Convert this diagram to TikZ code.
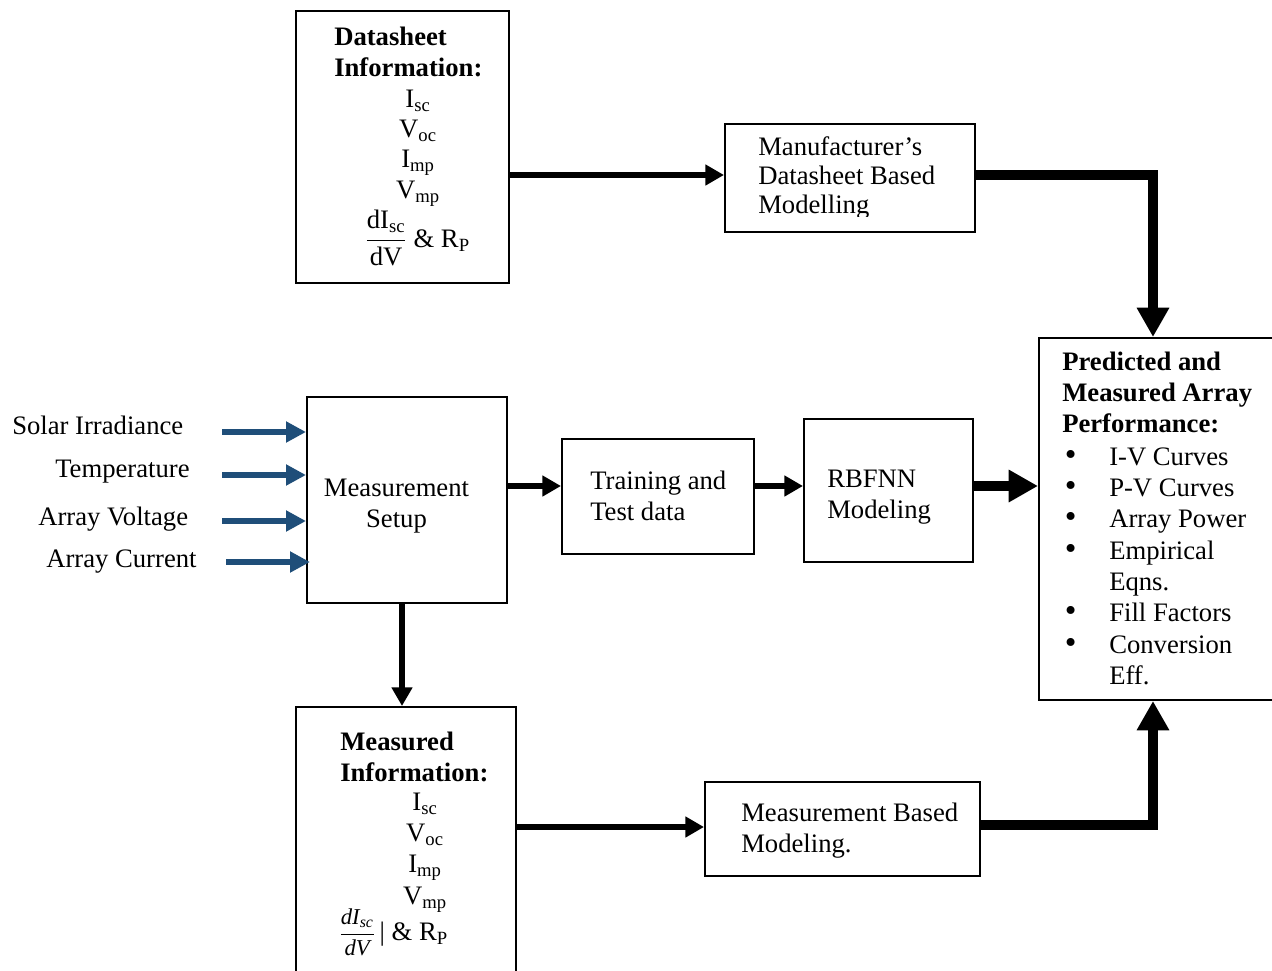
\documentclass[tikz,border=0pt]{standalone}
\usepackage{fontspec}
\setmainfont{Liberation Serif}
\usepackage{amsmath}
\usetikzlibrary{arrows.meta,fit}
\definecolor{arrowblue}{HTML}{1F4E79}
\setlength{\tabcolsep}{0pt}
\newcommand{\lns}[2]{\begin{tabular}[t]{@{}#1@{}}#2\end{tabular}}
\newcommand{\bul}{\makebox[35.25pt][l]{\hspace{2pt}\scalebox{1.25}{\textbullet}}}
\begin{document}
\begin{tikzpicture}[x=0.75pt,y=-0.75pt,
  font=\fontsize{20}{23.5}\selectfont,
  box/.style={draw,line width=1.5pt,inner sep=0pt},
  txt/.style={inner sep=0pt,anchor=base west},
  ctxt/.style={inner sep=0pt,anchor=base},
  thin/.style={line width=4pt,-{Triangle[length=14pt,width=15pt]}},
  thick/.style={line width=7pt,-{Triangle[length=22pt,width=23pt]}},
  bluearrow/.style={draw=arrowblue,line width=5pt,-{Triangle[length=15pt,width=15pt]}}]
\useasboundingbox (0,0) rectangle (1272,971);
\fill[white] (0,0) rectangle (1272,971);
\clip (0,0) rectangle (1272,971);

% boxes
\node[box,fit={(296,11) (509,283)}] (ds) {};
\node[box,fit={(725,124) (975,232)}] (man) {};
\node[box,fit={(1039,338) (1276,700)}] (pred) {};
\node[box,fit={(307,397) (507,603)}] (setup) {};
\node[box,fit={(562,439) (754,554)}] (train) {};
\node[box,fit={(804,419) (973,562)}] (rb) {};
\node[box,fit={(296,707) (516,995)}] (meas) {};
\node[box,fit={(705,782) (980,876)}] (mbm) {};

% datasheet box text
\node[txt] (dsH) at (334,45) {\lns{l}{\textbf{Datasheet}\\\textbf{Information:}}};
\node[ctxt,font=\fontsize{20}{22.8}\selectfont] (dsV) at (418,107)
  {\lns{c}{I\textsubscript{sc}\\V\textsubscript{oc}\\I\textsubscript{mp}\\V\textsubscript{mp}}};
\node[txt] (dsF) at (365,247) {$\dfrac{\textrm{dI}_{\textrm{sc}}}{\textrm{dV}}$~\&~R\textsubscript{P}};

% manufacturer text (clipped as in the reference)
\begin{scope}
\clip (725,124) rectangle (975,216);
\node[txt,font=\fontsize{20}{22}\selectfont] (manT) at (758,155)
  {\lns{l}{Manufacturer’s\\Datasheet Based\\Modelling}};
\end{scope}

% predicted box text
\node[txt] (prH) at (1062,370)
  {\lns{l}{\textbf{Predicted and}\\\textbf{Measured Array}\\\textbf{Performance:}}};
\node[txt] (prL) at (1062,465)
  {\lns{ll}{\bul & I-V Curves\\ \bul & P-V Curves\\ \bul & Array Power\\ \bul & Empirical\\
   & Eqns.\\ \bul & Fill Factors\\ \bul & Conversion\\ & Eff.}};

% middle row text
\node[ctxt] (setT) at (396.5,496) {\lns{c}{Measurement\\Setup}};
\node[txt] (trT) at (590,489) {\lns{l}{Training and\\Test data}};
\node[txt] (rbT) at (827,487) {\lns{l}{RBFNN\\Modeling}};

% measured box text
\node[txt] (msH) at (340,750) {\lns{l}{\textbf{Measured}\\\textbf{Information:}}};
\node[ctxt] (msV) at (425,810)
  {\lns{c}{I\textsubscript{sc}\\V\textsubscript{oc}\\I\textsubscript{mp}\\V\textsubscript{mp}}};
\node[txt] (msF) at (339,940) {{\fontsize{17}{20}\selectfont$\dfrac{\textit{dI}_{\textit{sc}}}{\textit{dV}}$}\,|~\&~R\textsubscript{P}};

\node[txt] (mbT) at (741,821) {\lns{l}{Measurement Based\\Modeling.}};

% input labels
\node[txt] (lab1) at (12,434) {Solar Irradiance};
\node[txt] (lab2) at (55,477) {Temperature};
\node[txt] (lab3) at (38,525) {Array Voltage};
\node[txt] (lab4) at (46,567) {Array Current};

% helper coordinates
\coordinate (ty) at (0,175);
\coordinate (hy) at (0,486);
\coordinate (my) at (0,827);
\coordinate (by) at (0,825);
\coordinate (vx) at (402,0);
\coordinate (tx) at (1153,0);
\coordinate (b1) at (222,432);
\coordinate (b2) at (222,475);
\coordinate (b3) at (222,521);
\coordinate (b4) at (226,562);

% blue input arrows
\draw[bluearrow] (b1) -- (b1 -| setup.west);
\draw[bluearrow] (b2) -- (b2 -| setup.west);
\draw[bluearrow] (b3) -- (b3 -| setup.west);
\draw[bluearrow] (b4) -- ([xshift=3pt]b4 -| setup.west);

% connectors
\draw[thin] (ds.east |- ty) -- (man.west |- ty);
\draw[thick] (man.east |- ty) -- (tx |- ty) -- (tx |- pred.north);
\draw[thin] (setup.east |- hy) -- (train.west |- hy);
\draw[thin] (train.east |- hy) -- (rb.west |- hy);
\draw[thick] (rb.east |- hy) -- (pred.west |- hy);
\draw[thin] (setup.south -| vx) -- (meas.north -| vx);
\draw[thin] (meas.east |- my) -- (mbm.west |- my);
\draw[thick] (mbm.east |- by) -- (tx |- by) -- (tx |- pred.south);
\end{tikzpicture}
\end{document}
